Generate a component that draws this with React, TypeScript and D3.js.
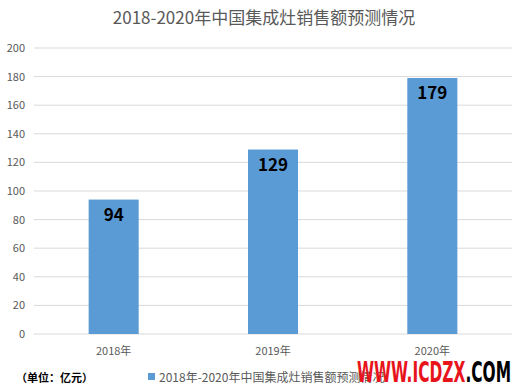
import React from "react";
import * as d3 from "d3";

const categories = ["2018年", "2019年", "2020年"];
const values = [94, 129, 179];
const yTicks = [0, 20, 40, 60, 80, 100, 120, 140, 160, 180, 200];
const title = "2018-2020年中国集成灶销售额预测情况";
const seriesName = "2018年-2020年中国集成灶销售额预测情况";
const unitNote = "（单位：亿元）";

export default function App() {
  const W = 528, H = 392;
  const left = 34, right = 512, top = 48, bottom = 334;
  const x = d3.scaleBand<string>().domain(categories).range([left, right]).paddingInner(0.686).paddingOuter(0.343);
  const y = d3.scaleLinear().domain([0, 200]).range([bottom, top]);
  const font = "'Microsoft YaHei', 'Noto Sans CJK SC', sans-serif";
  return (
    <svg width={W} height={H} style={{ position: "absolute", left: 0, top: 0, background: "#fff" }}>
      <text x={264} y={24} textAnchor="middle" fontSize={17} fill="#595959" fontFamily={font}>{title}</text>
      {yTicks.map((t) => (
        <g key={t}>
          <line x1={left} x2={right} y1={y(t)} y2={y(t)} stroke="#d9d9d9" strokeWidth={1} />
          <text x={25} y={y(t) + 4} textAnchor="end" fontSize={11} fill="#595959" fontFamily={font}>{t}</text>
        </g>
      ))}
      {categories.map((c, i) => (
        <g key={c}>
          <rect x={x(c)} y={y(values[i])} width={x.bandwidth()} height={bottom - y(values[i])} fill="#5b9bd5" />
          <text x={x(c)! + x.bandwidth() / 2} y={y(values[i]) + 21} textAnchor="middle" fontSize={17} fontWeight="bold" fill="#000" fontFamily={font}>{values[i]}</text>
          <text x={x(c)! + x.bandwidth() / 2} y={355} textAnchor="middle" fontSize={11} fill="#595959" fontFamily={font}>{c}</text>
        </g>
      ))}
      <text x={16} y={382} fontSize={11} fontWeight="bold" fill="#000" fontFamily={font}>{unitNote}</text>
      <rect x={148} y={373} width={7} height={7} fill="#5b9bd5" />
      <text x={159} y={382} fontSize={12} fill="#595959" fontFamily={font}>{seriesName}</text>
      <text x={357} y={382} fontSize={29} fontWeight="bold" fontFamily="'Liberation Sans Narrow', 'DejaVu Sans Condensed', sans-serif" textLength={154} lengthAdjust="spacingAndGlyphs">
        <tspan fill="#e8141c">WWW.ICDZX</tspan><tspan fill="#000">.COM</tspan>
      </text>
    </svg>
  );
}
